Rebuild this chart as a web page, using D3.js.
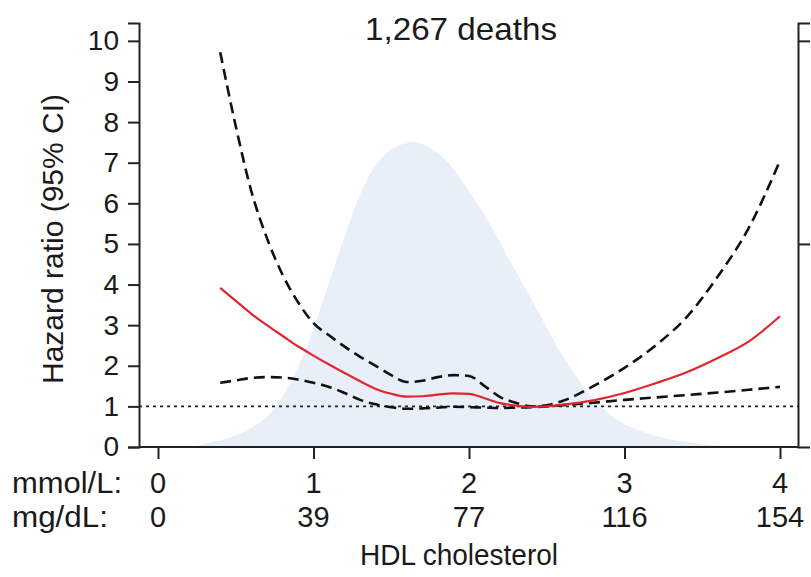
<!DOCTYPE html>
<html>
<head>
<meta charset="utf-8">
<script src="https://cdn.jsdelivr.net/npm/d3@7"></script>
<style>
  body { margin: 0; background: #fff; }
  text { font-family: "Liberation Sans", Arial, sans-serif; fill: #1a1a1a; }
</style>
</head>
<body>
<div id="chart"></div>
<script>
// HDL grid (mmol/L) and hazard ratios
var hdl = [0.4, 0.5, 0.6, 0.7, 0.8, 0.9, 1.0, 1.1, 1.2, 1.3, 1.4, 1.5, 1.6, 1.7, 1.8, 1.9,
           2.0, 2.1, 2.2, 2.3, 2.4, 2.5, 2.6, 2.8, 3.0, 3.2, 3.4, 3.6, 3.8, 4.0];
var hrEstimate = [3.92, 3.6, 3.28, 3.0, 2.74, 2.48, 2.25, 2.03, 1.82, 1.62, 1.43, 1.31, 1.24, 1.25, 1.29, 1.32,
                  1.31, 1.2, 1.08, 1.02, 0.99, 1.0, 1.04, 1.15, 1.33, 1.57, 1.84, 2.19, 2.6, 3.22];
var hrUpper = [9.72, 7.9, 6.3, 5.15, 4.25, 3.57, 3.05, 2.75, 2.47, 2.22, 2.0, 1.77, 1.6, 1.63, 1.72, 1.77,
               1.75, 1.5, 1.23, 1.09, 1.0, 1.03, 1.13, 1.5, 1.95, 2.5, 3.2, 4.2, 5.4, 7.05];
var hrLower = [1.58, 1.64, 1.7, 1.72, 1.71, 1.66, 1.58, 1.48, 1.33, 1.16, 1.05, 0.98, 0.94, 0.95, 0.97, 0.99,
               0.98, 0.97, 0.96, 0.97, 0.98, 1.0, 1.03, 1.09, 1.16, 1.22, 1.28, 1.34, 1.41, 1.48];

// distribution of HDL in the cohort (height in y-axis units)
var densityHdl = [0.22, 0.32, 0.48, 0.7, 0.85, 0.98, 1.15, 1.344, 1.473, 1.64, 1.814, 1.974, 2.135,
                  2.296, 2.457, 2.617, 2.778, 2.971, 3.228, 3.55, 3.775];
var densityHeight = [0, 0.1, 0.25, 0.74, 1.58, 2.71, 4.61, 6.58, 7.24, 7.51, 7.19, 6.45, 5.47,
                     4.36, 3.25, 2.14, 1.28, 0.62, 0.25, 0.05, 0];

var yTicks = [0, 1, 2, 3, 4, 5, 6, 7, 8, 9, 10];
var mmolTicks = [0, 1, 2, 3, 4];
var mgTicks = ["0", "39", "77", "116", "154"];

var width = 811, height = 577;

var svg = d3.select("#chart").append("svg")
    .attr("width", width)
    .attr("height", height);

var x = d3.scaleLinear().domain([0, 4]).range([158, 780]);
var y = d3.scaleLinear().domain([0, 10.44]).range([447, 23]);

var left = 139, right = 798;

// density
var area = d3.area()
    .x(function(d, i) { return x(densityHdl[i]); })
    .y0(y(0))
    .y1(function(d) { return y(d); })
    .curve(d3.curveCatmullRom.alpha(0.5));

svg.append("path")
    .datum(densityHeight)
    .attr("d", area)
    .attr("fill", "#e8eff8");

// reference line at HR = 1
svg.append("line")
    .attr("x1", left).attr("x2", right)
    .attr("y1", y(1)).attr("y2", y(1))
    .attr("stroke", "#222")
    .attr("stroke-width", 1.6)
    .attr("stroke-dasharray", "3,4");

var line = d3.line()
    .x(function(d, i) { return x(hdl[i]); })
    .y(function(d) { return y(d); })
    .curve(d3.curveMonotoneX);

[hrUpper, hrLower].forEach(function(s) {
    svg.append("path")
        .datum(s)
        .attr("d", line)
        .attr("fill", "none")
        .attr("stroke", "#111")
        .attr("stroke-width", 2.6)
        .attr("stroke-dasharray", "11,6");
});

svg.append("path")
    .datum(hrEstimate)
    .attr("d", line)
    .attr("fill", "none")
    .attr("stroke", "#e2262d")
    .attr("stroke-width", 2.2);

// axes
var yAxis = svg.append("g")
    .attr("transform", "translate(" + left + ",0)")
    .call(d3.axisLeft(y).tickValues(yTicks).tickSize(11).tickPadding(9).tickFormat(d3.format("d")));

var rAxis = svg.append("g")
    .attr("transform", "translate(" + right + ",0)")
    .call(d3.axisRight(y).tickValues([5, 10]).tickSize(12).tickFormat(""));

var xAxis = svg.append("g")
    .attr("transform", "translate(0," + y(0) + ")")
    .call(d3.axisBottom(x).tickValues(mmolTicks).tickSize(12).tickFormat(""));

xAxis.select(".domain").attr("d", "M" + left + ",0H" + right);

[yAxis, rAxis, xAxis].forEach(function(g) {
    g.selectAll(".domain").attr("stroke", "#222").attr("stroke-width", 2);
    g.selectAll(".tick line").attr("stroke", "#222").attr("stroke-width", 2);
});
yAxis.selectAll(".tick text")
    .style("font-size", "28px")
    .style("font-family", "'Liberation Sans', Arial, sans-serif")
    .attr("fill", "#1a1a1a");

// unit rows under the x axis
svg.append("text").attr("x", 12).attr("y", 493).style("font-size", "30px")
    .attr("textLength", 110).attr("lengthAdjust", "spacingAndGlyphs").text("mmol/L:");
svg.append("text").attr("x", 12).attr("y", 527).style("font-size", "30px")
    .attr("textLength", 96).attr("lengthAdjust", "spacingAndGlyphs").text("mg/dL:");

svg.selectAll(".mmol").data(mmolTicks).enter().append("text")
    .attr("x", function(d) { return x(d); })
    .attr("y", 493)
    .attr("text-anchor", "middle")
    .style("font-size", "29px")
    .text(function(d) { return d; });

svg.selectAll(".mg").data(mgTicks).enter().append("text")
    .attr("x", function(d, i) { return x(mmolTicks[i]); })
    .attr("y", 527)
    .attr("text-anchor", "middle")
    .style("font-size", "29px")
    .text(function(d) { return d; });

svg.append("text")
    .attr("x", 459).attr("y", 565)
    .attr("text-anchor", "middle")
    .style("font-size", "30px")
    .attr("textLength", 198).attr("lengthAdjust", "spacingAndGlyphs")
    .text("HDL cholesterol");

svg.append("text")
    .attr("transform", "translate(63,239) rotate(-90)")
    .attr("text-anchor", "middle")
    .style("font-size", "30px")
    .attr("textLength", 290).attr("lengthAdjust", "spacingAndGlyphs")
    .text("Hazard ratio (95% CI)");

svg.append("text")
    .attr("x", 461).attr("y", 40)
    .attr("text-anchor", "middle")
    .style("font-size", "32px")
    .attr("textLength", 192).attr("lengthAdjust", "spacingAndGlyphs")
    .text("1,267 deaths");
</script>
</body>
</html>
